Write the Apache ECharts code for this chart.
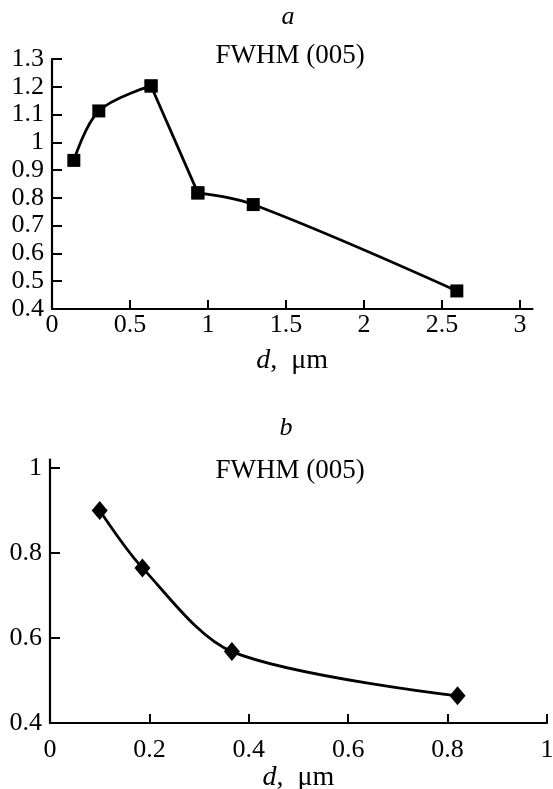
<!DOCTYPE html>
<html>
<head>
<meta charset="utf-8">
<script src="https://cdn.jsdelivr.net/npm/echarts@6/dist/echarts.min.js"></script>
<style>html,body{margin:0;padding:0;background:#fff;}#c{width:553px;height:789px;}</style>
</head>
<body>
<div id="c"></div>
<script>
// Panel a
const aX = [0.14, 0.30, 0.635, 0.935, 1.29, 2.595];
const aY = [0.935, 1.113, 1.203, 0.818, 0.776, 0.465];
const aXTicks = [0, 0.5, 1, 1.5, 2, 2.5, 3];
const aYTicks = [0.4, 0.5, 0.6, 0.7, 0.8, 0.9, 1.0, 1.1, 1.2, 1.3];
// Panel b
const bX = [0.10, 0.186, 0.366, 0.82];
const bY = [0.90, 0.765, 0.568, 0.464];
const bXTicks = [0, 0.2, 0.4, 0.6, 0.8, 1];
const bYTicks = [0.4, 0.6, 0.8, 1];

const FONT = 'Liberation Serif';
const chart = echarts.init(document.getElementById('c'), null, {renderer: 'canvas'});

function fmt(v) {
  if (Math.abs(v - Math.round(v)) < 1e-9) return String(Math.round(v));
  return String(Math.round(v * 10) / 10);
}

const axisLine = {show: true, onZero: false, lineStyle: {color: '#000', width: 2.2}};
const labelStyle = {color: '#000', fontFamily: FONT, fontSize: 26};

function xAxisCfg(grid, max, ticks, margin, nameGap) {
  return {
    type: 'value', gridIndex: grid, min: 0, max: max,
    axisLine: axisLine,
    axisTick: {show: true, inside: true, length: 9, lineStyle: {color: '#000', width: 2}, customValues: ticks},
    axisLabel: Object.assign({margin: margin, customValues: ticks, formatter: fmt}, labelStyle),
    splitLine: {show: false},
    name: '{i|d},  μm', nameLocation: 'middle', nameGap: nameGap,
    nameTextStyle: {color: '#000', fontFamily: FONT, fontSize: 28,
      rich: {i: {fontStyle: 'italic', fontFamily: FONT, fontSize: 28, color: '#000'}}}
  };
}
function yAxisCfg(grid, min, max, ticks, margin) {
  return {
    type: 'value', gridIndex: grid, min: min, max: max,
    axisLine: axisLine,
    axisTick: {show: true, inside: true, length: 10, lineStyle: {color: '#000', width: 2}, customValues: ticks},
    axisLabel: Object.assign({margin: margin, customValues: ticks, formatter: fmt}, labelStyle),
    splitLine: {show: false}
  };
}

// panel a curve drawn in pieces: [start index, end index, smoothness]
const aPieces = [[0, 2, 0.35], [2, 3, 0], [3, 5, 0.35]];
const aSeries = aPieces.map(([s, e, sm]) => ({
  type: 'line', xAxisIndex: 0, yAxisIndex: 0,
  data: aX.slice(s, e + 1).map((x, i) => [x, aY[s + i]]),
  smooth: sm,
  symbol: 'rect', symbolSize: 13, showAllSymbol: true,
  lineStyle: {color: '#000', width: 2.8},
  itemStyle: {color: '#000'},
  z: 3
}));

const option = {
  backgroundColor: '#fff',
  animation: false,
  grid: [
    {left: 52, right: 20.5, top: 59, bottom: 480, containLabel: false, outerBoundsMode: 'none'},
    {left: 50, right: 6, top: 459.5, bottom: 66, containLabel: false, outerBoundsMode: 'none'}
  ],
  xAxis: [
    xAxisCfg(0, 3.08, aXTicks, 3, 38),
    xAxisCfg(1, 1, bXTicks, 14, 33)
  ],
  yAxis: [
    yAxisCfg(0, 0.4, 1.3, aYTicks, 8),
    yAxisCfg(1, 0.4, 1.02, bYTicks, 8)
  ],
  graphic: [
    {type: 'text', style: {text: 'a', fontFamily: FONT, fontStyle: 'italic', fontSize: 26, fill: '#000', x: 288, y: 17, align: 'center', verticalAlign: 'middle'}},
    {type: 'text', style: {text: 'FWHM (005)', fontFamily: FONT, fontSize: 27, fill: '#000', x: 290, y: 56, align: 'center', verticalAlign: 'middle'}},
    {type: 'text', style: {text: 'b', fontFamily: FONT, fontStyle: 'italic', fontSize: 26, fill: '#000', x: 286, y: 428, align: 'center', verticalAlign: 'middle'}},
    {type: 'text', style: {text: 'FWHM (005)', fontFamily: FONT, fontSize: 27, fill: '#000', x: 290, y: 471, align: 'center', verticalAlign: 'middle'}}
  ],
  series: aSeries.concat([
    {
      type: 'line', xAxisIndex: 1, yAxisIndex: 1,
      data: bX.map((x, i) => [x, bY[i]]),
      smooth: 0.3,
      symbol: 'diamond', symbolSize: [16, 19],
      lineStyle: {color: '#000', width: 2.8},
      itemStyle: {color: '#000'}
    }
  ])
};
chart.setOption(option);
</script>
</body>
</html>
